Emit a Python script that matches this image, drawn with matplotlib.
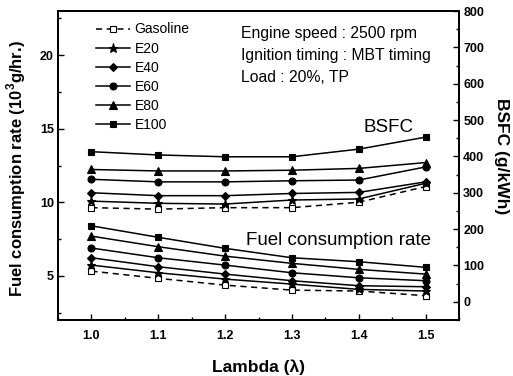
import matplotlib
matplotlib.use("Agg")
import matplotlib.pyplot as plt
from matplotlib.ticker import MultipleLocator

plt.rcParams['font.family'] = ['Liberation Sans', 'DejaVu Sans']
plt.rcParams['mathtext.fontset'] = 'custom'
plt.rcParams['mathtext.rm'] = 'Liberation Sans'
plt.rcParams['mathtext.bf'] = 'Liberation Sans:bold'

# Excess air ratio
lam = [1.0, 1.1, 1.2, 1.3, 1.4, 1.5]

fuels = ["Gasoline", "E20", "E40", "E60", "E80", "E100"]
markers = ["s", "*", "D", "o", "^", "s"]

# Fuel consumption rate (10^3 g/hr)
fcr_gasoline = [5.32, 4.83, 4.37, 4.03, 3.97, 3.65]
fcr_e20 = [5.73, 5.21, 4.78, 4.44, 4.08, 3.97]
fcr_e40 = [6.23, 5.62, 5.12, 4.67, 4.33, 4.26]
fcr_e60 = [6.89, 6.23, 5.73, 5.21, 4.87, 4.67]
fcr_e80 = [7.70, 6.98, 6.34, 5.85, 5.44, 5.12]
fcr_e100 = [8.40, 7.62, 6.87, 6.23, 5.96, 5.58]

# Brake specific fuel consumption (g/kWh)
bsfc_gasoline = [259, 255, 259, 259, 274, 317]
bsfc_e20 = [277, 271, 269, 280, 283, 326]
bsfc_e40 = [300, 292, 292, 298, 301, 330]
bsfc_e60 = [337, 330, 330, 333, 335, 371]
bsfc_e80 = [364, 360, 360, 362, 367, 383]
bsfc_e100 = [413, 404, 399, 399, 420, 453]

fcr = [fcr_gasoline, fcr_e20, fcr_e40, fcr_e60, fcr_e80, fcr_e100]
bsfc = [bsfc_gasoline, bsfc_e20, bsfc_e40, bsfc_e60, bsfc_e80, bsfc_e100]

fig = plt.figure(figsize=(5.13, 3.76), dpi=100)
ax = fig.add_axes([58 / 513, 1 - 320 / 376, (459 - 58) / 513, (320 - 11) / 376])
ax2 = ax.twinx()

handles = []
for name, mk, f, b in zip(fuels, markers, fcr, bsfc):
    gas = name == "Gasoline"
    ls = (0, (4, 3)) if gas else "-"
    face = "white" if gas else "black"
    ms = {"*": 6.5, "D": 4.5, "o": 5, "^": 5.5, "s": 4.5}[mk]
    kw = dict(color="black", lw=1.1, ls=ls, marker=mk, ms=ms,
              mfc=face, mec="black", mew=0.8)
    h, = ax.plot(lam, f, label=name, **kw)
    ax2.plot(lam, b, **kw)
    handles.append(h)

ax.set_xlim(0.95, 1.55)
ax.set_ylim(2, 23)
ax2.set_ylim(-50, 800)

ax.xaxis.set_major_locator(MultipleLocator(0.1))
ax.xaxis.set_minor_locator(MultipleLocator(0.05))
ax.yaxis.set_major_locator(MultipleLocator(5))
ax.yaxis.set_minor_locator(MultipleLocator(2.5))
ax2.yaxis.set_major_locator(MultipleLocator(100))
ax2.yaxis.set_minor_locator(MultipleLocator(50))

for a in (ax, ax2):
    a.tick_params(which="both", direction="in", width=1, labelsize=9)
    a.tick_params(which="major", length=4.5)
    a.tick_params(which="minor", length=2.5)
    for s in a.spines.values():
        s.set_linewidth(1.3)
ax.tick_params(axis="y", right=False, pad=3)
ax.tick_params(axis="x", top=False, pad=7.5)
ax2.tick_params(axis="y", left=False, pad=3)
for lbl in ax.get_xticklabels() + ax.get_yticklabels() + ax2.get_yticklabels():
    lbl.set_fontweight("bold")
ax.set_xticks([1.0, 1.1, 1.2, 1.3, 1.4, 1.5])
ax.set_xticklabels(["1.0", "1.1", "1.2", "1.3", "1.4", "1.5"], fontweight="bold")

ax.set_xlabel("Lambda (λ)", fontsize=12.5, fontweight="bold", labelpad=12)
ax.set_ylabel(r"Fuel consumption rate (10$^\mathbf{3}$g/hr.)", fontsize=12,
              fontweight="bold", va="center")
ax.yaxis.set_label_coords(-0.105, 0.49)
ax2.set_ylabel("BSFC (g/kWh)", fontsize=12.5, fontweight="bold", rotation=-90,
               va="center")
ax2.yaxis.set_label_coords(1.105, 0.53)

ax.legend(handles=handles, loc="upper left", bbox_to_anchor=(0.075, 0.99),
          frameon=False, fontsize=10, handlelength=2.4, handletextpad=0.35,
          labelspacing=0.37, numpoints=1, borderaxespad=0.2)

ax.text(0.457, 0.95, "Engine speed : 2500 rpm\nIgnition timing : MBT timing\nLoad : 20%, TP",
        transform=ax.transAxes, fontsize=11.3, va="top", ha="left", linespacing=1.55)
ax.text(0.762, 0.624, "BSFC", transform=ax.transAxes, fontsize=13.5, va="center", ha="left")
ax.text(0.469, 0.258, "Fuel consumption rate", transform=ax.transAxes, fontsize=13.5,
        va="center", ha="left")

fig.savefig("out.png", dpi=100)
